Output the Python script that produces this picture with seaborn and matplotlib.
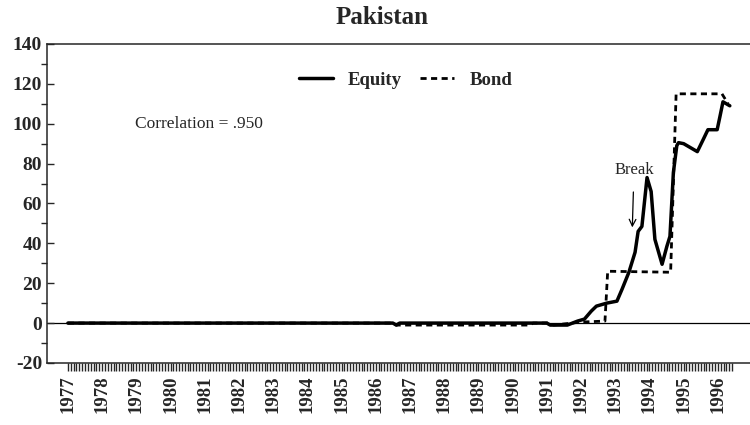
import numpy as np
import pandas as pd
import seaborn as sns
import matplotlib
matplotlib.use("Agg")
import matplotlib.pyplot as plt
from matplotlib.ticker import MultipleLocator, FixedLocator

# values (decimal year, index level)
equity_year = [1977.0, 1986.5, 1986.6, 1986.7, 1991.0, 1991.1, 1991.6, 1991.9, 1992.1, 1992.3,
               1992.45, 1992.75, 1993.05, 1993.2, 1993.4, 1993.58, 1993.67, 1993.78, 1993.93,
               1994.05, 1994.16, 1994.37, 1994.51, 1994.6, 1994.7, 1994.8, 1994.85, 1995.0,
               1995.4, 1995.57, 1995.71, 1995.98, 1996.06, 1996.15, 1996.35]
equity_val = [0, 0, -1, 0, 0, -1, -1, 1, 2, 6,
              8.5, 10, 11, 17, 25.5, 35.5, 46, 48.5, 73,
              66, 42, 29.5, 38.5, 43.5, 75.5, 89, 90.5, 90,
              86, 92, 97, 97, 103.5, 111, 109]

bond_year = [1977.0, 1986.5, 1986.6, 1990.5, 1990.6, 1991.1, 1991.2, 1992.0, 1992.7,
             1992.78, 1994.62, 1994.78, 1996.12, 1996.3]
bond_val = [0, 0, -1, -1, 0, 0, -1, 0.5, 1,
            26, 25.5, 115, 115, 110]

years = list(range(1977, 1997))

df = pd.concat([
    pd.DataFrame({"year": equity_year, "value": equity_val, "series": "Equity"}),
    pd.DataFrame({"year": bond_year, "value": bond_val, "series": "Bond"}),
])

sns.set_style("ticks")
plt.rcParams['font.family'] = ['Liberation Serif', 'DejaVu Serif']
plt.rcParams['axes.unicode_minus'] = False

fig = plt.figure(figsize=(7.5, 4.25), dpi=100)
ax = fig.add_axes([0.0627, 0.146, 0.9373, 0.7505])

sns.lineplot(data=df, x="year", y="value", hue="series", style="series",
             palette={"Equity": "black", "Bond": "black"},
             dashes={"Equity": "", "Bond": (2.2, 1.6)},
             size="series", sizes={"Equity": 2.5, "Bond": 2.0},
             sort=False, estimator=None, ax=ax)

ax.axhline(0, color="black", lw=0.9, zorder=0)

ax.set_xlim(1976.39, 1996.94)
ax.set_ylim(-20, 140)
ax.set_xticks(years)
ax.set_xticklabels([str(y) for y in years], rotation=90, fontweight="bold", fontsize=13.5)
# monthly ticks only over the sample period
ax.xaxis.set_minor_locator(FixedLocator(np.arange(1977, 1996.42, 1 / 12)))
ax.tick_params(axis="x", which="both", direction="out", length=6, width=1.0, pad=3)
ax.yaxis.set_major_locator(MultipleLocator(20))
ax.yaxis.set_minor_locator(MultipleLocator(10))
ax.tick_params(axis="y", which="major", direction="in", length=5, width=1)
ax.tick_params(axis="y", which="minor", direction="out", length=4, width=1)
for lab in ax.get_yticklabels():
    lab.set_fontweight("bold")
    lab.set_fontsize(14)
ax.set_xlabel("")
ax.set_ylabel("")
ax.spines["right"].set_visible(False)
for s in ["left", "top", "bottom"]:
    ax.spines[s].set_linewidth(1.1)

handles, labels = ax.get_legend_handles_labels()
ax.legend(handles=handles[:2], labels=labels[:2], ncol=2, frameon=False, loc="center",
          bbox_to_anchor=(0.51, 0.887), handlelength=1.8, columnspacing=1.0,
          prop={"weight": "bold", "size": 13.5})

ax.text(1978.96, 100, "Correlation = .950", fontsize=12.5, va="center", ha="left")
ax.annotate("Break", xy=(1993.5, 48), xytext=(1993.55, 77), ha="center", va="center",
            fontsize=12, arrowprops=dict(arrowstyle="->", color="black", lw=0.9,
                                         shrinkA=8, shrinkB=0))

fig.text(0.51, 0.958, "Pakistan", ha="center", va="center", fontsize=18, fontweight="bold")

fig.savefig("out.png", dpi=100)
